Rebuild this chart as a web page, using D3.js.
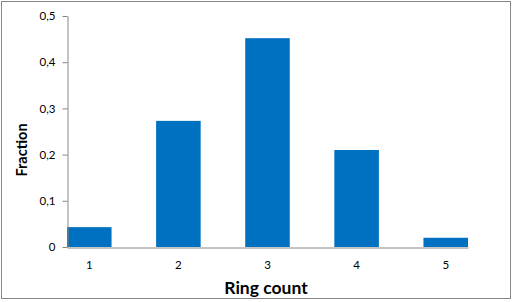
<!DOCTYPE html>
<html lang="en">
<head>
    <meta charset="UTF-8">
    <title>Ring count</title>
    <script src="https://d3js.org/d3.v7.min.js"></script>
    <style>
        body {
            margin: 0;
            background: #fff;
        }
        text {
            font-family: Lato, "Open Sans", sans-serif;
        }
    </style>
</head>
<body>
    <div id="chart"></div>

    <script>
        const ringCounts = ["1", "2", "3", "4", "5"];
        const fractions = [0.043, 0.273, 0.452, 0.21, 0.02];
        const yTicks = [0, 0.1, 0.2, 0.3, 0.4, 0.5];

        const width = 513;
        const height = 302;
        const plot = {left: 67, right: 468, top: 16, bottom: 247};
        const axisColor = "#868686";

        const svg = d3.select("#chart").append("svg")
            .attr("width", width)
            .attr("height", height);

        // outer chart border
        svg.append("rect")
            .attr("x", 1.5)
            .attr("y", 1.5)
            .attr("width", 509)
            .attr("height", 297)
            .attr("fill", "#fff")
            .attr("stroke", axisColor);

        const x = d3.scaleBand()
            .domain(ringCounts)
            .range([plot.left, plot.right])
            .paddingInner(0.5)
            .paddingOuter(0);

        const y = d3.scaleLinear()
            .domain([0, 0.5])
            .range([plot.bottom, plot.top]);

        // bars
        svg.append("g")
            .selectAll("rect")
            .data(fractions)
            .join("rect")
            .attr("x", (d, i) => x(ringCounts[i]))
            .attr("y", d => y(d))
            .attr("width", x.bandwidth())
            .attr("height", d => y(0) - y(d))
            .attr("fill", "#0070C0");

        // y axis
        const yAxis = svg.append("g")
            .attr("transform", `translate(${plot.left + 0.5},0)`)
            .call(d3.axisLeft(y)
                .tickValues(yTicks)
                .tickSize(5)
                .tickSizeOuter(0)
                .tickPadding(7)
                .tickFormat(d => d === 0 ? "0" : d3.format(".1f")(d).replace(".", ",")));
        yAxis.select(".domain").attr("stroke", axisColor);
        yAxis.selectAll(".tick line").attr("stroke", axisColor);
        yAxis.selectAll(".tick text")
            .attr("fill", "#000")
            .style("font-size", "11.5px");

        // x axis, no tick marks
        const xAxis = svg.append("g")
            .attr("transform", `translate(0,${plot.bottom + 0.5})`)
            .call(d3.axisBottom(x)
                .tickSize(0)
                .tickSizeOuter(0)
                .tickPadding(13));
        xAxis.select(".domain").attr("stroke", axisColor);
        xAxis.selectAll(".tick text")
            .attr("fill", "#000")
            .style("font-size", "11.5px");

        // axis titles
        svg.append("text")
            .attr("x", 266)
            .attr("y", 294)
            .style("text-anchor", "middle")
            .style("font-size", "17.5px")
            .style("font-weight", "bold")
            .text("Ring count");

        svg.append("text")
            .attr("transform", "rotate(-90)")
            .attr("x", -150)
            .attr("y", 27)
            .style("text-anchor", "middle")
            .style("font-size", "14.5px")
            .style("font-weight", "bold")
            .text("Fraction");
    </script>
</body>
</html>
